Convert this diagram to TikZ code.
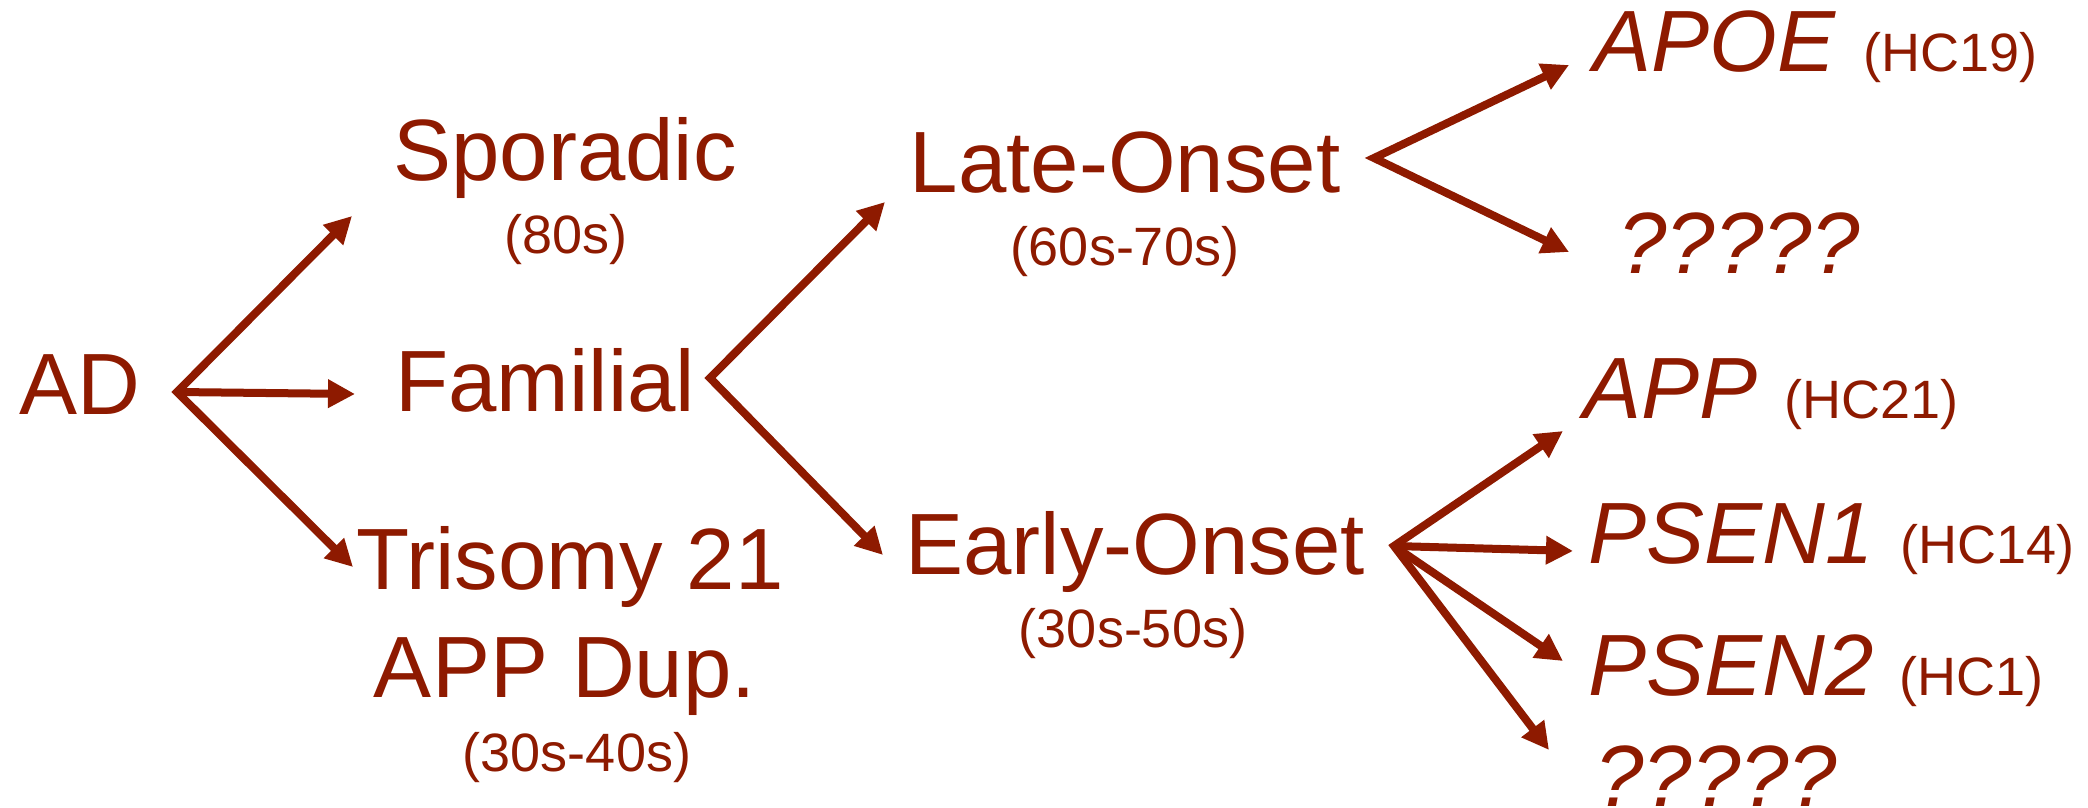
\documentclass[tikz,border=0pt]{standalone}
\usepackage{fontspec}
\setmainfont{Liberation Sans}
\usetikzlibrary{arrows.meta}
\definecolor{adred}{RGB}{142,26,0}
\begin{document}
\begin{tikzpicture}[x=0.5pt,y=-0.5pt,
  big/.style={text=adred,inner sep=0pt,font=\fontsize{43.5}{48}\selectfont},
  bigit/.style={text=adred,inner sep=0pt,font=\fontsize{43.5}{48}\selectfont\itshape},
  small/.style={text=adred,inner sep=0pt,font=\fontsize{27}{30}\selectfont},
  arr/.style={draw=adred,line width=4pt,line join=miter,
    {Triangle[length=13.5pt,width=13.5pt]}-{Triangle[length=13.5pt,width=13.5pt]}},
  arr1/.style={draw=adred,line width=4pt,-{Triangle[length=13.5pt,width=13.5pt]}}]
\useasboundingbox (0,0) rectangle (2088,808);
% column 1
\node[big,anchor=base west] (ad) at (19,414) {AD};
% column 2
\node[big,anchor=base west] (spor) at (393,180) {Sporadic};
\node[small,anchor=base] (sporage) at (566,253) {(80s)};
\node[big,anchor=base west] (fam) at (395,411) {Familial};
\node[big,anchor=base] (tri) at (570,589) {Trisomy 21};
\node[big,anchor=base] (dup) at (565,697) {APP Dup.};
\node[small,anchor=base] (triage) at (577,771) {(30s-40s)};
% column 3
\node[big,anchor=base] (late) at (1125,192) {Late-Onset};
\node[small,anchor=base] (lateage) at (1125,265) {(60s-70s)};
\node[big,anchor=base] (early) at (1135,574) {Early-Onset};
\node[small,anchor=base] (earlyage) at (1133,647) {(30s-50s)};
% column 4
\node[bigit,anchor=base west] (apoe) at (1593,72) {APOE};
\node[small,anchor=base west] (hc19) at (1863,72) {(HC19)};
\node[bigit,anchor=base west] (q1) at (1618,273) {?????};
\node[bigit,anchor=base west] (app) at (1583,418) {APP};
\node[small,anchor=base west] (hc21) at (1784,418) {(HC21)};
\node[bigit,anchor=base west] (psen1) at (1588,563) {PSEN1};
\node[small,anchor=base west] (hc14) at (1900,563) {(HC14)};
\node[bigit,anchor=base west] (psen2) at (1588,695) {PSEN2};
\node[small,anchor=base west] (hc1) at (1899,695) {(HC1)};
\node[bigit,anchor=base west] (q2) at (1595,806) {?????};
% connector points
\coordinate (ado) at (177,392);
\coordinate (t-spor) at (352,216);
\coordinate (t-fam) at (355,394);
\coordinate (t-tri) at (353,567);
\coordinate (famo) at (710,378);
\coordinate (t-late) at (885,202);
\coordinate (t-early) at (883,555);
\coordinate (lateo) at (1374,158);
\coordinate (t-apoe) at (1569,65);
\coordinate (t-q1) at (1569,252);
\coordinate (earlyo) at (1394,546);
\coordinate (t-app) at (1563,431);
\coordinate (t-psen1) at (1573,551);
\coordinate (t-psen2) at (1563,661);
\coordinate (t-q2) at (1549,750);
% connectors
\draw[arr] (t-spor) -- (ado) -- (t-tri);
\draw[arr1] (ado) -- (t-fam);
\draw[arr] (t-late) -- (famo) -- (t-early);
\draw[arr] (t-apoe) -- (lateo) -- (t-q1);
\draw[arr] (t-app) -- (earlyo) -- (t-q2);
\draw[arr1] (earlyo) -- (t-psen1);
\draw[arr1] (earlyo) -- (t-psen2);
\end{tikzpicture}
\end{document}
